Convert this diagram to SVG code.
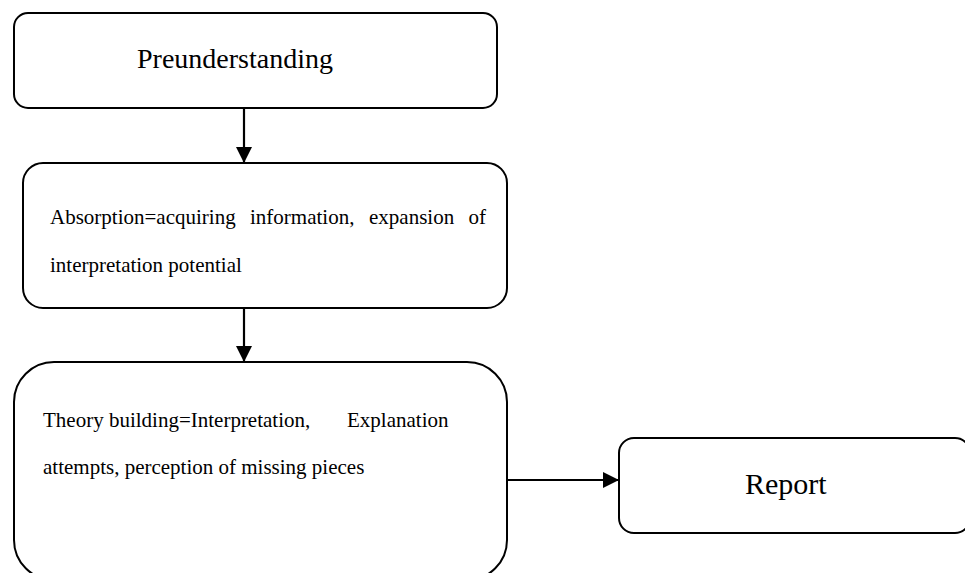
<svg xmlns="http://www.w3.org/2000/svg" width="965" height="573" viewBox="0 0 965 573">
  <defs>
    <marker id="arrow" viewBox="0 0 16 16" refX="16" refY="8" markerWidth="16" markerHeight="16" markerUnits="userSpaceOnUse" orient="auto">
      <path d="M0,0 L16,8 L0,16 Z" fill="#000"/>
    </marker>
    <style>
      .box { fill: #fff; stroke: #000; stroke-width: 2; }
      .big { font-family: "Liberation Serif", "Times New Roman", serif; fill: #000; }
      .small { font-family: "Liberation Serif", "Times New Roman", serif; font-size: 21px; fill: #000; }
      .conn { stroke: #000; stroke-width: 2.2; fill: none; marker-end: url(#arrow); }
    </style>
  </defs>
  <rect width="965" height="573" fill="#fff"/>

  <g id="connectors">
    <line class="conn" x1="244" y1="108" x2="244" y2="163"/>
    <line class="conn" x1="244" y1="308" x2="244" y2="362"/>
    <line class="conn" x1="507" y1="480" x2="619" y2="480"/>
  </g>

  <g id="preunderstanding">
    <rect class="box" x="14" y="13" width="483" height="95" rx="14"/>
    <text class="big" x="137" y="68" font-size="28">Preunderstanding</text>
  </g>

  <g id="absorption">
    <rect class="box" x="23" y="163" width="484" height="145" rx="20"/>
    <text class="small" y="224">
      <tspan x="50">Absorption=acquiring</tspan>
      <tspan x="250">information,</tspan>
      <tspan x="369">expansion</tspan>
      <tspan x="486" text-anchor="end">of</tspan>
    </text>
    <text class="small" x="50" y="272">interpretation potential</text>
  </g>

  <g id="theory-building">
    <rect class="box" x="14" y="362" width="493" height="218" rx="40"/>
    <text class="small" y="427">
      <tspan x="43">Theory building=Interpretation,</tspan>
      <tspan x="347">Explanation</tspan>
    </text>
    <text class="small" x="43" y="474">attempts, perception of missing pieces</text>
  </g>

  <g id="report">
    <rect class="box" x="619" y="438" width="351" height="95" rx="15"/>
    <text class="big" x="745" y="494" font-size="30">Report</text>
  </g>
</svg>
